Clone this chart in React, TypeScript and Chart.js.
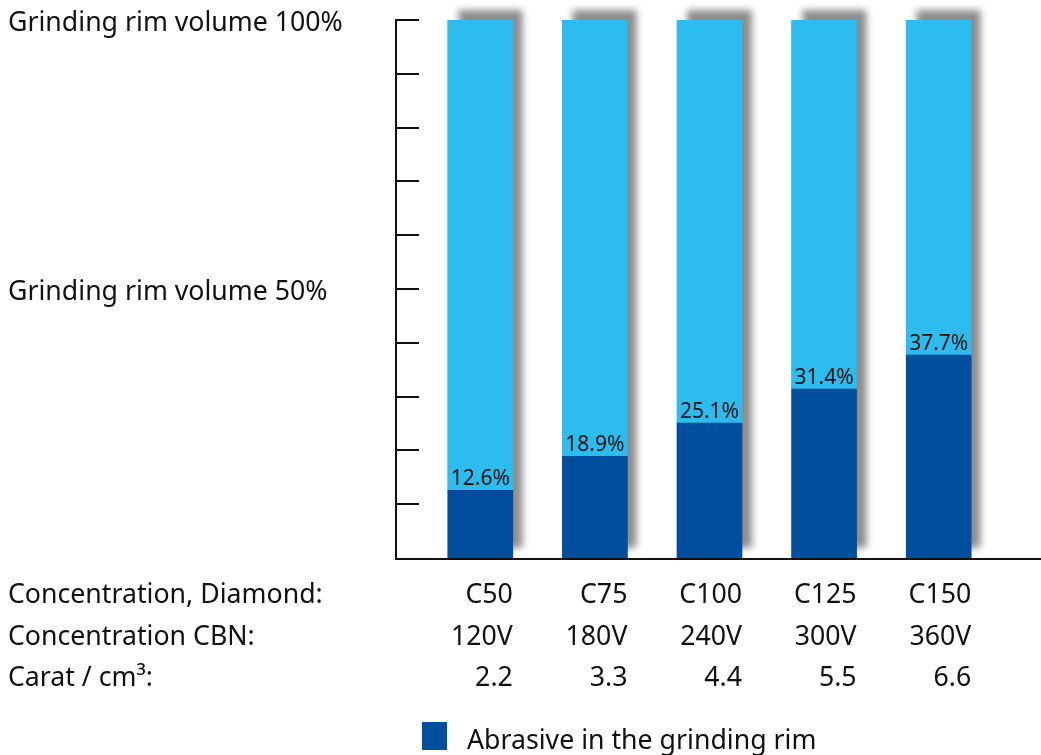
import React, { useEffect, useRef } from "react";
import { Chart, registerables } from "chart.js";

Chart.register(...registerables);

const categories = ["C50", "C75", "C100", "C125", "C150"];
const cbnLabels = ["120V", "180V", "240V", "300V", "360V"];
const caratLabels = ["2.2", "3.3", "4.4", "5.5", "6.6"];
const rowTitles = ["Concentration, Diamond:", "Concentration CBN:", "Carat / cm³:"];
const abrasive = [12.6, 18.9, 25.1, 31.4, 37.7];
const remainder = [87.4, 81.1, 74.9, 68.6, 62.3];
const valueLabels = ["12.6%", "18.9%", "25.1%", "31.4%", "37.7%"];
const yTickValues = [10, 20, 30, 40, 50, 60, 70, 80, 90, 100];
const yAxisLabels = [
  { value: 100, text: "Grinding rim volume 100%" },
  { value: 50, text: "Grinding rim volume 50%" },
];
const legendLabel = "Abrasive in the grinding rim";

const DARK = "#004f9f";
const LIGHT = "#2cbcef";
const FONT = '"Noto Sans", "Open Sans", sans-serif';

const decor = {
  id: "decor",
  beforeDatasetsDraw(chart: any) {
    const ctx = chart.ctx;
    const m0 = chart.getDatasetMeta(0);
    const m1 = chart.getDatasetMeta(1);
    ctx.save();
    ctx.shadowColor = "rgba(0,0,0,0.45)";
    ctx.shadowBlur = 7;
    ctx.shadowOffsetX = 10;
    ctx.shadowOffsetY = -10;
    ctx.fillStyle = "#888";
    m1.data.forEach((el: any, i: number) => {
      const base = m0.data[i].base;
      const w = el.width;
      ctx.fillRect(el.x - w / 2, el.y, w, base - el.y);
    });
    ctx.restore();
  },
  afterDatasetsDraw(chart: any) {
    const ctx = chart.ctx;
    const ys = chart.scales.y;
    const m0 = chart.getDatasetMeta(0);
    const axisX = 396;
    const y0 = ys.getPixelForValue(0) + 1;
    const yTop = ys.getPixelForValue(100) - 1;
    ctx.save();
    ctx.strokeStyle = "#111";
    ctx.lineWidth = 2;
    ctx.beginPath();
    ctx.moveTo(axisX, yTop);
    ctx.lineTo(axisX, y0 + 1);
    ctx.moveTo(axisX - 1, y0);
    ctx.lineTo(chart.width, y0);
    yTickValues.forEach((v) => {
      const py = Math.round(ys.getPixelForValue(v));
      ctx.moveTo(axisX, py);
      ctx.lineTo(axisX + 23, py);
    });
    ctx.stroke();

    // value labels
    ctx.fillStyle = "#111";
    ctx.font = `21px ${FONT}`;
    ctx.textAlign = "center";
    ctx.textBaseline = "alphabetic";
    m0.data.forEach((el: any, i: number) => {
      ctx.fillText(valueLabels[i], el.x, el.y - 5);
    });

    // left y labels
    ctx.font = `26.7px ${FONT}`;
    ctx.textAlign = "left";
    ctx.textBaseline = "middle";
    yAxisLabels.forEach((l) => {
      ctx.fillText(l.text, 8, ys.getPixelForValue(l.value) + 3);
    });

    // category rows
    const rows = [categories, cbnLabels, caratLabels];
    const rowY = [595, 637, 678];
    rows.forEach((row, r) => {
      ctx.textAlign = "left";
      ctx.fillText(rowTitles[r], 8, rowY[r]);
      ctx.textAlign = "right";
      row.forEach((t, i) => {
        const el = m0.data[i];
        ctx.fillText(t, el.x + el.width / 2, rowY[r]);
      });
    });

    // legend
    ctx.fillStyle = DARK;
    ctx.fillRect(422, 722, 25, 28);
    ctx.fillStyle = "#111";
    ctx.textAlign = "left";
    ctx.fillText(chart.data.datasets[0].label, 467, 741);
    ctx.restore();
  },
};

export default function App() {
  const ref = useRef<HTMLCanvasElement>(null);
  useEffect(() => {
    if (!ref.current) return;
    const chart = new Chart(ref.current, {
      type: "bar",
      data: {
        labels: categories,
        datasets: [
          { label: legendLabel, data: abrasive, backgroundColor: DARK, barThickness: 65 },
          { label: "Bond", data: remainder, backgroundColor: LIGHT, barThickness: 65 },
        ],
      },
      options: {
        responsive: false,
        animation: false,
        layout: { padding: { left: 423, right: 45, top: 20, bottom: 197 } },
        scales: {
          x: { stacked: true, display: false },
          y: { stacked: true, display: false, min: 0, max: 100 },
        },
        plugins: { legend: { display: false }, tooltip: { enabled: false } },
      },
      plugins: [decor],
    });
    return () => chart.destroy();
  }, []);
  return (
    <div style={{ position: "fixed", left: 0, top: 0, width: 1041, height: 755, background: "#fff" }}>
      <canvas ref={ref} width={1041} height={755} style={{ width: 1041, height: 755 }} />
    </div>
  );
}
